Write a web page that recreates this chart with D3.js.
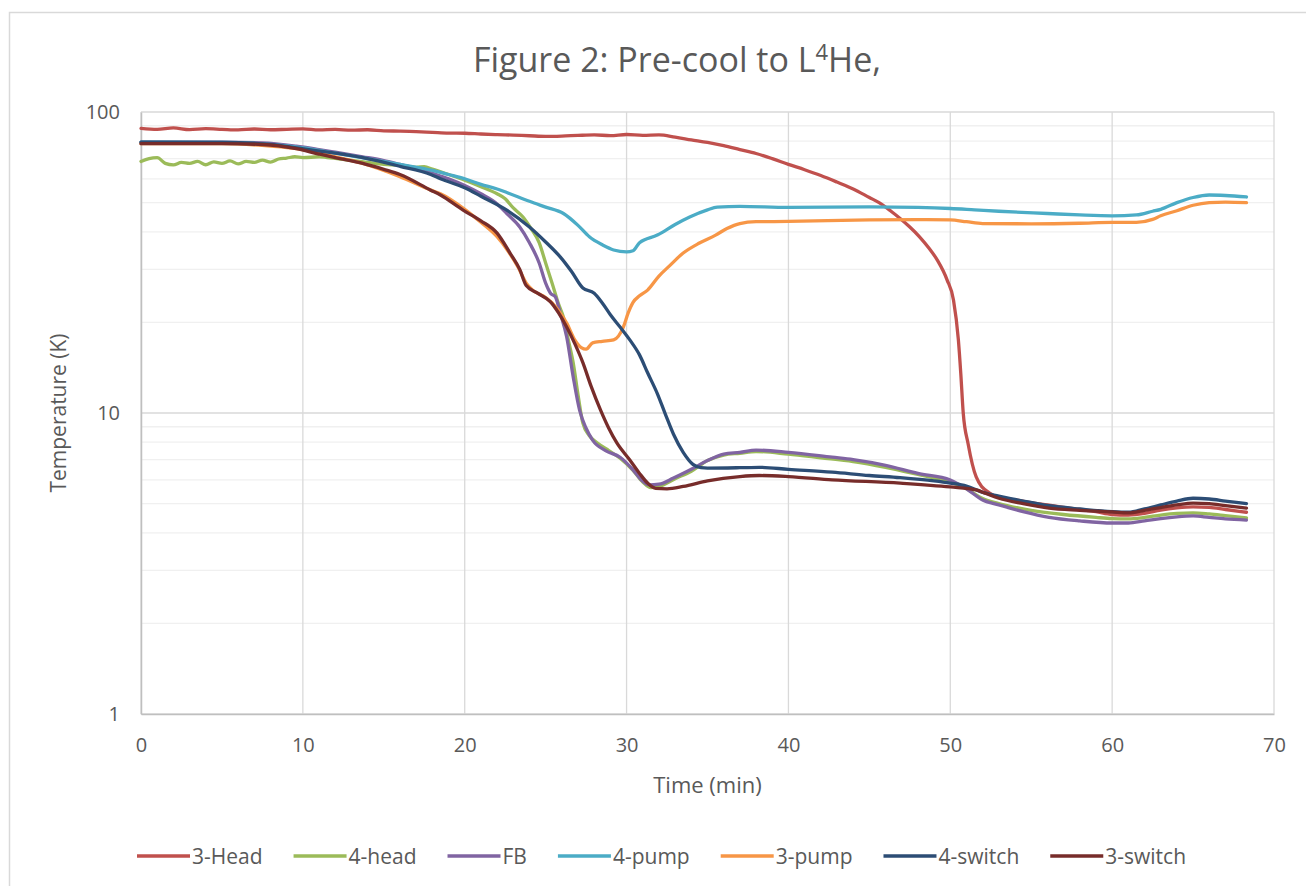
<!DOCTYPE html>
<html>
<head>
<meta charset="utf-8">
<script src="https://cdn.jsdelivr.net/npm/d3@7"></script>
<style>
  body { margin: 0; background: #fff; }
  text { font-family: "Open Sans", "Noto Sans", sans-serif; fill: #595959; }
</style>
</head>
<body>
<div id="chart"></div>
<script>
// data: [time (min), temperature (K)]
var head3 = [[0,88.2],[1,87.5],[2,88.5],[3,87.4],[4,88],[5,87.6],[6,87.2],[7,87.8],[8,87.3],[9,87.6],[10,87.9],[11,87.2],[12,87.5],[13,87.0],[14,87.3],[15,86.6],[16,86.4],[17,86.1],[18,85.6],[19,85.1],[20,85.0],[21,84.5],[22,84.1],[23,83.8],[24,83.4],[25,83.0],[26,83.2],[27,83.6],[28,83.9],[29,83.5],[30,84.2],[31,83.6],[32,83.9],[33,82.5],[34,80.8],[35,79.2],[36,77.3],[37,75.0],[38,72.8],[39,70.0],[40,67.0],[41,64.3],[42,61.5],[43,58.5],[44,55.5],[45,52],[45.6,50],[46.3,47],[46.9,44.3],[47.5,41.5],[48.1,38.5],[48.7,35.2],[49.2,32.2],[49.8,27.7],[50.2,23.7],[50.5,17.5],[50.65,13.5],[50.8,10],[51.1,7.9],[51.6,6.13],[52.4,5.43],[53,5.25],[54,5.15],[55,5.04],[56,4.95],[57,4.86],[58,4.78],[59,4.7],[60,4.6],[61,4.58],[62,4.64],[63,4.76],[64,4.84],[65,4.88],[66,4.86],[67,4.78],[68.3,4.68]];
var head4 = [[0,68.5],[0.5,70],[1,70.5],[1.5,67.5],[2,66.7],[2.5,68],[3,67.5],[3.5,68.5],[4,66.8],[4.5,68.3],[5,67.5],[5.5,68.8],[6,67.2],[6.5,68.5],[7,68],[7.5,69.2],[8,68.2],[8.5,69.8],[9,70.3],[9.5,71],[10,70.5],[11,71],[11.5,70.6],[12,70.2],[13,69],[14,68],[15,67],[16,66.5],[17,65.5],[17.5,65.8],[18,64.6],[19,62],[20,59.4],[21,56.5],[22,53.5],[22.5,51.5],[23,48],[23.6,44.8],[24.1,41],[24.6,36.8],[25,31.5],[25.4,27],[25.8,23],[26.1,20.8],[26.4,17.5],[26.7,14.7],[27,11.5],[27.3,9.25],[27.7,8.4],[28.2,7.95],[28.9,7.5],[29.6,7.08],[30.4,6.45],[31,5.9],[31.5,5.65],[32,5.7],[33,6.05],[34,6.4],[35,6.95],[36,7.25],[37,7.35],[38,7.45],[40,7.3],[42,7.1],[44,6.9],[46,6.6],[48,6.25],[50,5.9],[51,5.6],[52,5.2],[53,5.0],[55,4.75],[57,4.6],[59,4.5],[60,4.46],[61,4.45],[62,4.5],[63,4.58],[64,4.64],[65,4.66],[66,4.62],[67,4.56],[68.3,4.48]];
var fb = [[0,79.4],[5,79.4],[7.5,79],[9.6,77],[11,75],[12,73.5],[13.7,71],[15,69],[16,67],[17,65],[18,62.5],[19,60],[20,57],[21,53.5],[22,49.5],[22.6,46],[23.4,41.5],[24,36.8],[24.6,31.5],[25,27],[25.3,25],[25.6,24.3],[25.9,21.5],[26.3,17.9],[26.7,13.2],[27.1,10.2],[27.5,8.9],[27.9,8.13],[28.7,7.5],[29.6,7.13],[30.4,6.47],[30.9,6.0],[31.4,5.77],[32,5.8],[32.9,6.08],[34,6.5],[35,6.95],[36,7.3],[37,7.4],[38,7.53],[40,7.4],[42.7,7.13],[44,7.0],[46,6.7],[48,6.3],[50,5.99],[51,5.6],[52,5.14],[53,4.95],[54.5,4.7],[56.1,4.5],[58,4.38],[60,4.31],[61,4.31],[62,4.38],[63,4.46],[64,4.52],[65,4.55],[66,4.5],[67,4.45],[68.3,4.41]];
var pump4 = [[0,79.4],[5,79.2],[8,78],[10,76],[12,73],[14,70],[16,67],[18,64],[19,62],[20,60],[21,57.5],[22,55.5],[22.6,54],[24,50.5],[25,48.3],[26.1,46],[27,42],[27.7,38.5],[28.5,36.2],[29.2,34.8],[30,34.3],[30.4,34.6],[30.8,36.8],[31.9,39],[33,42.3],[33.9,44.8],[35,47.3],[35.6,48.3],[37,48.6],[40,48.2],[45,48.4],[48,48.2],[50,47.8],[51.5,47.3],[53,46.8],[56,46],[58,45.5],[60,45.2],[61.5,45.5],[62.5,46.8],[63,47.5],[64,50],[65,52],[66,53],[67,52.8],[68.3,52.2]];
var pump3 = [[0,78.5],[5,78.5],[8,77],[9.6,75.5],[12,71],[13.7,67.5],[16,61],[17.9,55],[18.5,53.5],[20,47.5],[21,43],[22,38.5],[22.6,35],[23.3,30.5],[23.8,27],[24.2,25.6],[25,24.2],[25.4,23.2],[25.9,21.5],[26.3,19.9],[26.8,17.5],[27.2,16.5],[27.5,16.3],[27.9,17.1],[28.5,17.3],[29.2,17.5],[29.8,19.3],[30.1,21.5],[30.4,23.3],[30.8,24.5],[31.3,25.6],[32,28.5],[32.7,31],[33.5,34],[34.5,36.7],[35.5,39],[36.2,41],[37,42.6],[38,43.2],[40,43.3],[45,43.8],[48,43.9],[50,43.8],[51,43.2],[52,42.6],[55,42.5],[58,42.7],[60,43],[61.5,43],[62.5,44],[63,45.2],[64,47],[65,49],[66,50],[67,50.2],[68.3,50]];
var switch4 = [[0,79.4],[5,79.2],[8,78],[9.6,76],[12,73],[13.7,70.5],[16,66],[17.9,62],[18.5,60],[20,56],[21,52.5],[22.6,47.2],[24,41.5],[25,37],[25.9,33],[26.6,29.5],[27.3,26],[28,25],[28.5,23.2],[29,21.2],[29.6,19.3],[30.2,17.5],[30.8,15.6],[31.3,13.6],[31.9,11.6],[32.4,9.9],[32.9,8.5],[33.5,7.4],[34.1,6.75],[34.6,6.58],[35,6.56],[37,6.58],[38.2,6.6],[40,6.5],[42.7,6.36],[45,6.2],[46.9,6.1],[49,5.95],[50,5.85],[51,5.72],[52,5.45],[53,5.3],[54.5,5.1],[56.1,4.92],[58,4.8],[60,4.7],[61,4.68],[62,4.8],[63,4.95],[64,5.1],[65,5.21],[66,5.18],[67,5.1],[68.3,5.0]];
var switch3 = [[0,78.5],[5,78.5],[7.5,78],[9.6,75.5],[11,72.5],[12,70.5],[13.7,67.5],[15,64.5],[16,62],[17.9,55],[18.5,53],[19.9,47.2],[21,43.5],[22,39.6],[22.8,34],[23.4,30],[23.8,26.5],[24.5,25],[25.3,23.4],[25.8,21.5],[26.3,19.3],[26.8,17],[27.3,14.7],[27.8,12.3],[28.4,10.2],[28.9,8.9],[29.4,7.95],[30.2,6.98],[30.8,6.3],[31.3,5.85],[31.8,5.62],[32.5,5.6],[33.5,5.7],[35,5.95],[37,6.15],[38.2,6.2],[40,6.15],[42.7,6.0],[46.9,5.85],[50,5.68],[51.6,5.55],[52.2,5.4],[53,5.21],[54.5,5.0],[56.1,4.83],[58,4.75],[60,4.69],[61,4.66],[62,4.75],[63,4.85],[64,4.95],[65,5.02],[66,5.0],[67,4.92],[68.3,4.83]];

var seriesNames = ['3-Head','4-head','FB','4-pump','3-pump','4-switch','3-switch'];
var seriesData = [head3, head4, fb, pump4, pump3, switch4, switch3];
var seriesColors = ['#c0504d','#9bbb59','#8064a2','#4bacc6','#f79646','#2c4d75','#772c2a'];
var xTicks = [0,10,20,30,40,50,60,70];
var yTicks = [1,10,100];

var svgWidth = 1306;
var svgHeight = 886;

var chartMargin = { top: 112, right: 32, bottom: 172, left: 141 };
var chartWidth = svgWidth - chartMargin.left - chartMargin.right;
var chartHeight = svgHeight - chartMargin.top - chartMargin.bottom;

var svg = d3.select('#chart')
    .append('svg')
    .attr('width', svgWidth)
    .attr('height', svgHeight);

// outer chart border
svg.append('rect')
    .attr('x', 9.5).attr('y', 12.5)
    .attr('width', svgWidth + 20).attr('height', svgHeight + 20)
    .attr('fill', 'none')
    .attr('stroke', '#d9d9d9')
    .attr('stroke-width', 1.5);

var chartGroup = svg.append('g')
    .attr('transform', `translate(${chartMargin.left}, ${chartMargin.top})`);

var xScale = d3.scaleLinear().domain([0, 70]).range([0, chartWidth]);
var yScale = d3.scaleLog().domain([1, 100]).range([chartHeight, 0]);

// minor gridlines
var minor = [];
[1, 10].forEach(function(d) { for (var k = 2; k <= 9; k++) minor.push(d * k); });
chartGroup.append('g').selectAll('line').data(minor).enter()
    .append('line')
    .attr('x1', 0).attr('x2', chartWidth)
    .attr('y1', d => yScale(d)).attr('y2', d => yScale(d))
    .attr('stroke', '#f0f0f0').attr('stroke-width', 1.3);

// major gridlines
chartGroup.append('g').selectAll('line').data(yTicks).enter()
    .append('line')
    .attr('x1', 0).attr('x2', chartWidth)
    .attr('y1', d => yScale(d)).attr('y2', d => yScale(d))
    .attr('stroke', '#d9d9d9').attr('stroke-width', 1.3);
chartGroup.append('g').selectAll('line').data(xTicks).enter()
    .append('line')
    .attr('x1', d => xScale(d)).attr('x2', d => xScale(d))
    .attr('y1', 0).attr('y2', chartHeight)
    .attr('stroke', '#d9d9d9').attr('stroke-width', 1.3);

// axes
var bottomAxis = d3.axisBottom(xScale).tickValues(xTicks).tickSize(0).tickPadding(24);
var leftAxis = d3.axisLeft(yScale).tickValues(yTicks).tickFormat(d3.format('d')).tickSize(0).tickPadding(21);

var xAxisG = chartGroup.append('g')
    .attr('transform', `translate(0,${chartHeight})`)
    .call(bottomAxis);
var yAxisG = chartGroup.append('g').call(leftAxis);

[xAxisG, yAxisG].forEach(function(g) {
    g.select('.domain').attr('stroke', '#bfbfbf').attr('stroke-width', 1.5);
    g.selectAll('text').style('font-size', '20px').style('font-family', '"Open Sans", sans-serif').attr('fill', '#595959');
});

// series lines
var line = d3.line()
    .x(d => xScale(d[0]))
    .y(d => yScale(d[1]))
    .curve(d3.curveMonotoneX);

chartGroup.append('g').selectAll('path').data(seriesData).enter()
    .append('path')
    .attr('d', line)
    .attr('fill', 'none')
    .attr('stroke', (d, i) => seriesColors[i])
    .attr('stroke-width', 3.3)
    .attr('stroke-linejoin', 'round')
    .attr('stroke-linecap', 'round');

// title
var title = svg.append('text')
    .attr('x', 677).attr('y', 72)
    .attr('text-anchor', 'middle')
    .style('font-size', '34px');
title.append('tspan').text('Figure 2: Pre-cool to L');
title.append('tspan').attr('dy', -12).style('font-size', '22px').text('4');
title.append('tspan').attr('dy', 12).text('He,');

// axis titles
chartGroup.append('text')
    .attr('transform', `translate(${chartWidth / 2}, ${chartHeight + 79})`)
    .attr('text-anchor', 'middle')
    .style('font-size', '22px')
    .text('Time (min)');

chartGroup.append('text')
    .attr('transform', `translate(-75, ${chartHeight / 2}) rotate(-90)`)
    .attr('text-anchor', 'middle')
    .style('font-size', '21px')
    .text('Temperature (K)');

// legend
var legend = svg.append('g').attr('transform', 'translate(0, 856)');
var lx = 137;
seriesNames.forEach(function(name, i) {
    var item = legend.append('g').attr('transform', `translate(${lx}, 0)`);
    item.append('line')
        .attr('x1', 0).attr('x2', 53)
        .attr('y1', 0).attr('y2', 0)
        .attr('stroke', seriesColors[i])
        .attr('stroke-width', 3.3);
    var t = item.append('text')
        .attr('x', 55).attr('y', 7.5)
        .style('font-size', '21px')
        .text(name);
    lx += 55 + t.node().getComputedTextLength() + 31;
});
</script>
</body>
</html>
